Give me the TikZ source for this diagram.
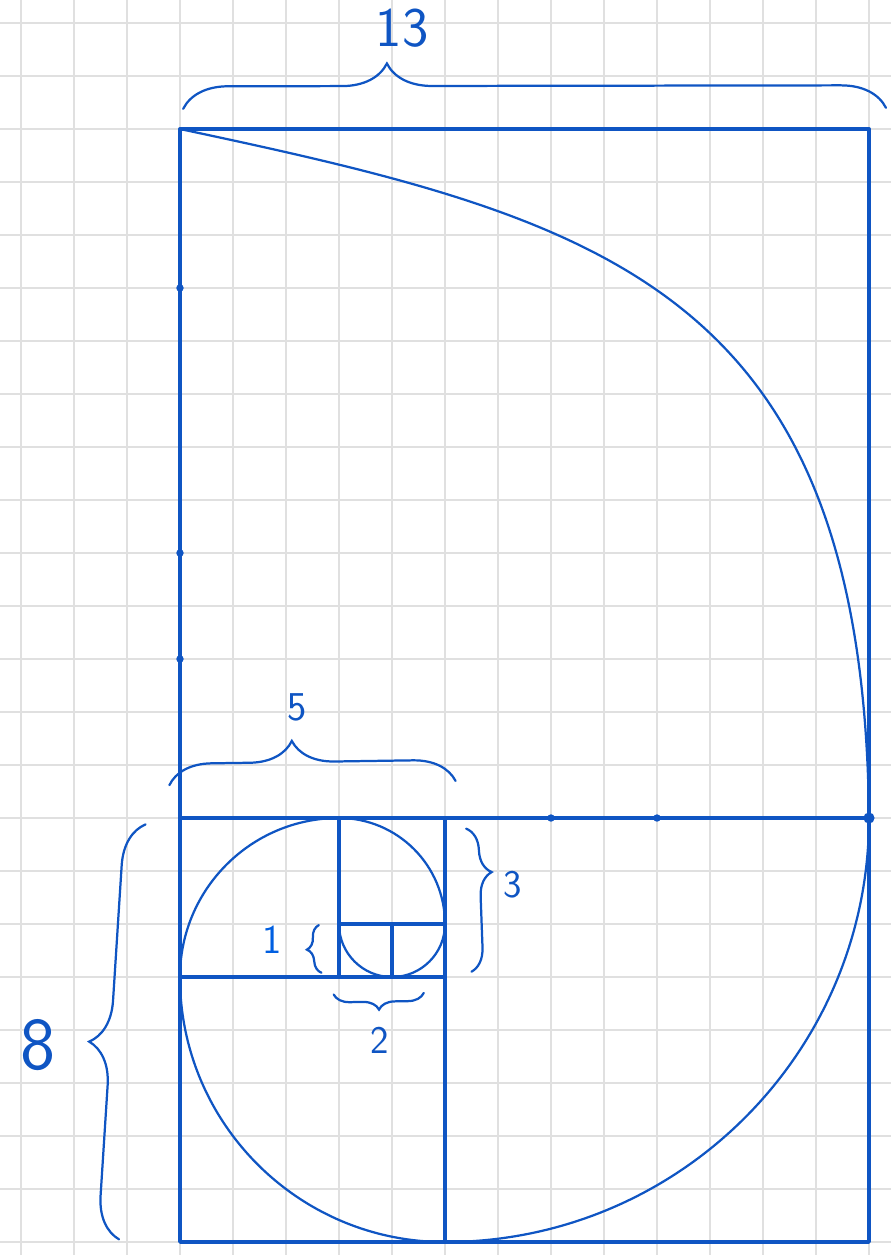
\documentclass[tikz,border=0pt]{standalone}
\usepackage{tikz}
\definecolor{inkblue}{RGB}{15, 85, 195}
\definecolor{inkblue2}{RGB}{0, 95, 225}
\definecolor{papergrid}{RGB}{224, 224, 224}
\usetikzlibrary{decorations.pathreplacing}
\tikzset{
  % Squared paper background (one square per unit).
  paper-grid/.style={draw=papergrid, line width=0.8pt, step=1},
  % Pen strokes.
  square-edge/.style={draw=inkblue, line width=1.8pt, line cap=round, line join=round},
  spiral-arc/.style={draw=inkblue, line width=1.2pt, line cap=round},
  % Curly brace (#1 = amplitude, #2 = position of the tip).
  ink-brace/.style 2 args={
    draw=inkblue, line width=1.2pt, line cap=round,
    decorate, decoration={brace, amplitude=#1, aspect=#2},
  },
  % Hand-written numbers (#1 = size in pt).
  hand-label/.style={
    text=inkblue, inner sep=0pt,
    font=\sffamily\fontsize{#1}{#1}\selectfont,
  },
  ink-dot/.style={circle, fill=inkblue, inner sep=0pt, minimum size=4pt},
}

\begin{document}
\begin{tikzpicture}

  \useasboundingbox (-3.396,-8.245) rectangle (13.415,15.434);

  % Squared paper.
  \draw[paper-grid] (-3.396,-8.245) grid (13.415,15.434);

  % Square outlines — 13, 8, 5, 3, 2, 1, 1.
  \draw[square-edge] (0,13) -- (13,13) -- (13,-8) -- (0,-8) -- cycle;
  \draw[square-edge] (0,0) -- (13,0);
  \draw[square-edge] (5,0) -- (5,-8);
  \draw[square-edge] (0,-3) -- (5,-3);
  \draw[square-edge] (3,0) -- (3,-3);
  \draw[square-edge] (3,-2) -- (5,-2);
  \draw[square-edge] (4,-2) -- (4,-3);

  % Pen dots.
  \foreach \p in {(0,10), (0,5), (0,3), (7,0), (9,0)}
    \node[ink-dot] at \p {};
  \node[ink-dot, minimum size=6pt] (corner) at (13,0) {};

  % Spiral — one quarter turn per square (the big one drawn freehand).
  \draw[spiral-arc] (0,13) .. controls (8,11.3) and (12.9,10) .. (13,0)
    arc[start angle=0, end angle=-90, radius=8]
    arc[start angle=-90, end angle=-180, radius=5]
    arc[start angle=180, end angle=90, radius=3]
    arc[start angle=90, end angle=0, radius=2]
    arc[start angle=0, end angle=-180, radius=1];

  % Braces.
  \draw[ink-brace={0.85cm}{0.29}] (0.06,13.38) -- (13.32,13.40);
  \draw[ink-brace={0.8cm}{0.43}] (-0.2,0.62) -- (5.2,0.70);
  \draw[ink-brace={0.45cm}{0.31}] (5.40,-0.2) -- (5.50,-2.9);
  \draw[ink-brace={0.25cm}{0.5}] (2.67,-2.92) -- (2.62,-2.02);
  \draw[ink-brace={0.3cm}{0.5}] (4.60,-3.30) -- (2.90,-3.33);
  \draw[ink-brace={0.8cm}{0.47}] (-1.15,-7.95) -- (-0.65,-0.12);

  % Side lengths.
  \node[hand-label=30] (thirteen) at (4.19,14.90) {13};
  \node[hand-label=22] (five) at (2.21,2.09) {5};
  \node[hand-label=21] (three) at (6.28,-1.26) {3};
  \node[hand-label=22, text=inkblue2] (one) at (1.74,-2.30) {1};
  \node[hand-label=21] (two) at (3.77,-4.19) {2};
  \node[hand-label=40] (eight) at (-2.68,-4.28) {8};

\end{tikzpicture}
\end{document}
